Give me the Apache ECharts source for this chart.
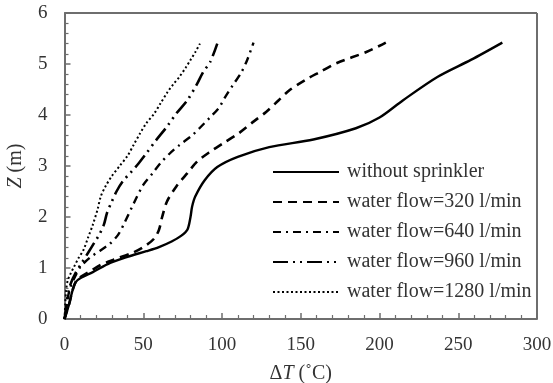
<!DOCTYPE html>
<html>
<head>
<meta charset="utf-8">
<script src="https://cdn.jsdelivr.net/npm/echarts@6/dist/echarts.min.js"></script>
<style>
html,body{margin:0;padding:0;background:#fff;}
#chart{width:553px;height:383px;}
</style>
</head>
<body>
<div id="chart"></div>
<script>
// [ΔT (°C), Z (m)]
var seriesNames = ['without sprinkler','water flow=320 l/min','water flow=640 l/min','water flow=960 l/min','water flow=1280 l/min'];
var noSprinkler = [[0,0],[1,0.1],[3,0.3],[5,0.55],[7,0.72],[10,0.8],[18,0.92],[29,1.1],[40,1.22],[52,1.33],[60,1.41],[68,1.52],[74,1.63],[78,1.75],[80,2.0],[81,2.2],[83,2.4],[89,2.72],[97,2.98],[110,3.18],[130,3.37],[158,3.52],[185,3.74],[200,3.95],[215,4.29],[237,4.75],[258,5.08],[278,5.42]];
var flow320 = [[0,0],[1,0.1],[3,0.3],[5,0.55],[7,0.72],[10,0.82],[17,0.95],[23,1.06],[31,1.16],[44,1.31],[52,1.45],[57,1.58],[60,1.75],[62,2.0],[65,2.3],[71,2.6],[78,2.86],[84,3.08],[92,3.27],[101,3.45],[111,3.65],[120,3.87],[128,4.06],[136,4.29],[143,4.49],[153,4.69],[162,4.84],[173,5.02],[192,5.24],[204,5.42]];
var flow640 = [[0,0],[1,0.15],[2,0.4],[4,0.65],[7,0.85],[10,1.02],[16,1.2],[23,1.35],[29,1.48],[34,1.65],[38,1.88],[44,2.27],[50,2.63],[56,2.86],[61,3.06],[67,3.25],[73,3.41],[81,3.6],[86,3.75],[92,3.94],[98,4.14],[102,4.35],[107,4.59],[112,4.82],[116,5.08],[120,5.42]];
var flow960 = [[0,0],[1,0.2],[2,0.45],[4,0.7],[7,0.9],[11,1.1],[15,1.3],[19,1.5],[22,1.65],[25,1.85],[27,2.08],[30,2.3],[33,2.5],[37,2.7],[42,2.87],[47,3.05],[52,3.25],[58,3.5],[65,3.77],[71,4.03],[78,4.29],[84,4.6],[88,4.84],[92.5,5.04],[97,5.4]];
var flow1280 = [[0,0],[0.5,0.3],[1,0.55],[2,0.75],[4,0.9],[6,1.02],[9,1.2],[12,1.35],[15,1.6],[18,1.85],[21,2.15],[23,2.4],[26,2.6],[30,2.8],[35,3.0],[40,3.2],[44,3.42],[48,3.64],[52,3.84],[57,4.03],[61,4.23],[65,4.43],[69,4.6],[73,4.75],[77,4.93],[80,5.08],[83,5.23],[86,5.4]];
var xTicks = {min:0, max:300, interval:50};
var yTicks = {min:0, max:6, interval:1};

var FONT = '"Liberation Serif","Times New Roman",serif';
var TXT = '#333333';
var AX = '#6e6e6e';
var chart = echarts.init(document.getElementById('chart'), null, {renderer:'canvas'});
function mk(name, data, type, width) {
  return {name:name, type:'line', data:data, showSymbol:false, symbol:'none', smooth:0.3,
    lineStyle:{color:'#000', width:width, type:type, cap:'butt'}, itemStyle:{color:'#000'}, animation:false};
}
var option = {
  animation:false,
  backgroundColor:'#fff',
  grid:{left:64.5, right:16, top:13, bottom:64, containLabel:false, outerBoundsMode:'none'},
  xAxis:{type:'value', min:xTicks.min, max:xTicks.max, interval:xTicks.interval,
    name:'{d|Δ}{i|T} (˚C)', nameLocation:'middle', nameGap:45,
    nameTextStyle:{fontFamily:FONT, fontSize:20, color:TXT, rich:{d:{fontFamily:FONT,fontSize:20,color:TXT}, i:{fontFamily:FONT,fontSize:20,color:TXT,fontStyle:'italic'}}},
    axisLine:{show:true, onZero:false, lineStyle:{color:AX, width:2}},
    axisTick:{show:true, inside:true, length:6, lineStyle:{color:AX, width:1.5}},
    minorTick:{show:true, splitNumber:5, length:4, lineStyle:{color:AX, width:1.2}},
    axisLabel:{fontFamily:FONT, fontSize:19, color:TXT, margin:17},
    splitLine:{show:false}},
  yAxis:{type:'value', min:yTicks.min, max:yTicks.max, interval:yTicks.interval,
    name:'{i|Z} (m)', nameLocation:'middle', nameGap:39, nameRotate:90,
    nameTextStyle:{fontFamily:FONT, fontSize:20, color:TXT, rich:{i:{fontFamily:FONT,fontSize:20,color:TXT,fontStyle:'italic'}}},
    axisLine:{show:true, onZero:false, lineStyle:{color:AX, width:2}},
    axisTick:{show:true, inside:true, length:6, lineStyle:{color:AX, width:1.5}},
    minorTick:{show:true, splitNumber:5, length:4, lineStyle:{color:AX, width:1.2}},
    axisLabel:{fontFamily:FONT, fontSize:19, color:TXT, margin:17},
    splitLine:{show:false}},
  legend:{orient:'vertical', left:272, top:162, itemWidth:66, itemHeight:14, itemGap:10,
    backgroundColor:'#fff', padding:[0,2,0,0],
    itemStyle:{color:'rgba(0,0,0,0)', borderWidth:0, opacity:0},
    textStyle:{fontFamily:FONT, fontSize:20, color:TXT, padding:[0,0,0,3]},
    data:seriesNames},
  series:[
    mk(seriesNames[0], noSprinkler, 'solid', 2.4),
    mk(seriesNames[1], flow320, [9,6], 2.6),
    mk(seriesNames[2], flow640, [8,5,2,5], 2.4),
    mk(seriesNames[3], flow960, [15,5,2,5,2,5], 2.6),
    mk(seriesNames[4], flow1280, [2,2.5], 2)
  ],
  graphic:[
    {type:'line', shape:{x1:64.5, y1:13, x2:537, y2:13}, style:{stroke:AX, lineWidth:2}, silent:true},
    {type:'line', shape:{x1:537, y1:13, x2:537, y2:319}, style:{stroke:AX, lineWidth:2}, silent:true}
  ]
};
chart.setOption(option);
</script>
</body>
</html>
